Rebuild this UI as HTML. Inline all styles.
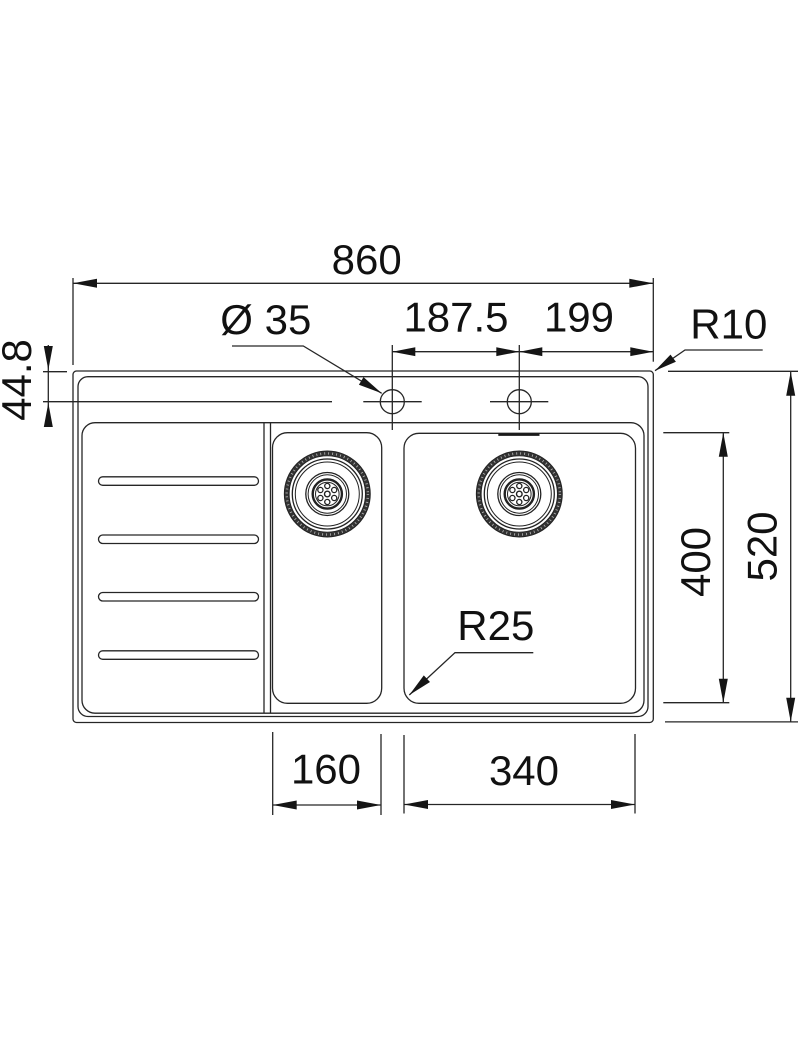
<!DOCTYPE html>
<html>
<head>
<meta charset="utf-8">
<style>
  html, body { margin: 0; padding: 0; background: #ffffff; }
  svg { display: block; }
  text { font-family: "Liberation Sans", Arial, sans-serif; font-size: 42px; fill: #111; }
</style>
</head>
<body>
<svg width="800" height="1058" viewBox="0 0 800 1058" xmlns="http://www.w3.org/2000/svg">
  <g fill="none" stroke="#262626" stroke-width="1.3">
    <!-- sink body -->
    <rect x="73" y="371" width="580.3" height="351.5" rx="3.5"/>
    <rect x="78" y="376.7" width="570" height="339.8" rx="10"/>
    <rect x="82" y="422.7" width="562" height="290.5" rx="13"/>
    <!-- drainer divider -->
    <line x1="264" y1="423" x2="264" y2="713"/>
    <line x1="270.5" y1="423" x2="270.5" y2="713"/>
    <!-- ribs -->
    <rect x="98.5" y="476.8" width="160" height="8.5" rx="4.2"/>
    <rect x="98.5" y="535" width="160" height="8.5" rx="4.2"/>
    <rect x="98.5" y="592.5" width="160" height="8.5" rx="4.2"/>
    <rect x="98.5" y="650.8" width="160" height="8.5" rx="4.2"/>
    <!-- bowls -->
    <rect x="272.5" y="432.7" width="109.2" height="270.6" rx="15"/>
    <rect x="404" y="433.3" width="231.5" height="270" rx="15"/>
    <!-- tap holes -->
    <circle cx="392.3" cy="401.7" r="12"/>
    <circle cx="519.3" cy="401.7" r="12"/>
    <line x1="363.3" y1="401.7" x2="421.7" y2="401.7"/>
    <line x1="490" y1="401.7" x2="548.3" y2="401.7"/>
    <line x1="392.3" y1="345" x2="392.3" y2="430"/>
    <line x1="519.3" y1="345" x2="519.3" y2="430"/>

    <!-- dimension: 860 -->
    <line x1="73" y1="283.3" x2="653.3" y2="283.3"/>
    <line x1="73" y1="278" x2="73" y2="365"/>
    <line x1="653.3" y1="278" x2="653.3" y2="361.7"/>
    <!-- 187.5 / 199 -->
    <line x1="392.3" y1="351.7" x2="653.3" y2="351.7"/>
    <!-- 44.8 -->
    <line x1="48.3" y1="345" x2="48.3" y2="427"/>
    <line x1="43" y1="371.7" x2="67" y2="371.7"/>
    <line x1="43" y1="401.7" x2="332" y2="401.7"/>
    <!-- 520 -->
    <line x1="790.7" y1="371.7" x2="790.7" y2="721.7"/>
    <line x1="668" y1="371.3" x2="798" y2="371.3"/>
    <line x1="665" y1="721.9" x2="798" y2="721.9"/>
    <!-- 400 -->
    <line x1="723.3" y1="432.7" x2="723.3" y2="702.7"/>
    <line x1="663.3" y1="432.7" x2="729.3" y2="432.7"/>
    <line x1="663.3" y1="702.7" x2="729.3" y2="702.7"/>
    <!-- 160 -->
    <line x1="272.7" y1="805" x2="381" y2="805"/>
    <line x1="272.7" y1="732" x2="272.7" y2="815"/>
    <line x1="381" y1="734" x2="381" y2="815"/>
    <!-- 340 -->
    <line x1="404" y1="804.5" x2="635" y2="804.5"/>
    <line x1="404" y1="735" x2="404" y2="813.5"/>
    <line x1="635" y1="734" x2="635" y2="813.5"/>

    <!-- leaders -->
    <polyline points="232,346 303.3,346 381.7,393.3"/>
    <polyline points="762.7,350 685,350 655,370.7"/>
    <polyline points="533.3,652.7 455,652.7 409.3,695"/>
  </g>

  <!-- overflow slot -->
  <line x1="498.3" y1="434.6" x2="539.5" y2="434.6" stroke="#1a1a1a" stroke-width="2.6"/>

  <!-- arrowheads -->
  <g fill="#151515" stroke="none">
    <polygon points="73,283.3 97,278.8 97,287.8"/>
    <polygon points="653.3,283.3 629.3,278.8 629.3,287.8"/>
    <polygon points="392.3,351.7 415.3,347.3 415.3,356.1"/>
    <polygon points="519.3,351.7 496.3,347.3 496.3,356.1"/>
    <polygon points="519.3,351.7 542.3,347.3 542.3,356.1"/>
    <polygon points="653.3,351.7 630.3,347.3 630.3,356.1"/>
    <polygon points="48.3,370 43.8,346 52.8,346"/>
    <polygon points="48.3,403 43.8,427 52.8,427"/>
    <polygon points="790.7,371.7 786.2,395.7 795.2,395.7"/>
    <polygon points="790.7,721.7 786.2,697.7 795.2,697.7"/>
    <polygon points="723.3,432.7 718.8,456.7 727.8,456.7"/>
    <polygon points="723.3,702.7 718.8,678.7 727.8,678.7"/>
    <polygon points="272.7,805 296.7,800.5 296.7,809.5"/>
    <polygon points="381,805 357,800.5 357,809.5"/>
    <polygon points="404,804.5 428,800 428,809"/>
    <polygon points="635,804.5 611,800 611,809"/>
    <polygon points="381.7,393.3 358.9,384.8 363.5,377.1"/>
    <polygon points="655,370.7 670.5,354.6 675.9,361.8"/>
    <polygon points="409.3,695 423.8,675.4 430,682"/>
  </g>

  <!-- drains -->
  <defs>
    <g id="drain" fill="none" stroke="#222">
      <circle r="42.8" stroke-width="1.3"/>
      <circle r="40.6" stroke-width="3.8" stroke="#333"/>
      <circle r="40.6" stroke-width="2.4" stroke="#bbb" stroke-dasharray="0.8 3.2"/>
      <circle r="38.3" stroke-width="1.2"/>
      <circle r="35" stroke-width="1.3"/>
      <circle r="32" stroke-width="1"/>
      <circle r="21.5" stroke-width="1.3"/>
      <circle r="19.2" stroke-width="1"/>
      <circle r="14.6" stroke-width="2.4"/>
      <circle r="11.8" stroke-width="1"/>
      <circle r="2.8" stroke-width="1.4"/>
      <circle cx="0" cy="-8" r="2.6" stroke-width="1.3"/>
      <circle cx="6.9" cy="-4" r="2.6" stroke-width="1.3"/>
      <circle cx="6.9" cy="4" r="2.6" stroke-width="1.3"/>
      <circle cx="0" cy="8" r="2.6" stroke-width="1.3"/>
      <circle cx="-6.9" cy="4" r="2.6" stroke-width="1.3"/>
      <circle cx="-6.9" cy="-4" r="2.6" stroke-width="1.3"/>
    </g>
  </defs>
  <use href="#drain" x="327.3" y="494"/>
  <use href="#drain" x="519.3" y="494"/>

  <!-- labels -->
  <text x="366.7" y="274" text-anchor="middle">860</text>
  <text x="265.8" y="334" text-anchor="middle">Ø 35</text>
  <text x="456" y="331.7" text-anchor="middle">187.5</text>
  <text x="579" y="331.7" text-anchor="middle">199</text>
  <text x="728.8" y="338.5" text-anchor="middle">R10</text>
  <text x="495.8" y="640" text-anchor="middle">R25</text>
  <text x="326" y="783.3" text-anchor="middle">160</text>
  <text x="524" y="785" text-anchor="middle">340</text>
  <text transform="translate(31,380) rotate(-90)" text-anchor="middle">44.8</text>
  <text transform="translate(710,562) rotate(-90)" text-anchor="middle">400</text>
  <text transform="translate(776.7,546.5) rotate(-90)" text-anchor="middle">520</text>
</svg>
</body>
</html>
